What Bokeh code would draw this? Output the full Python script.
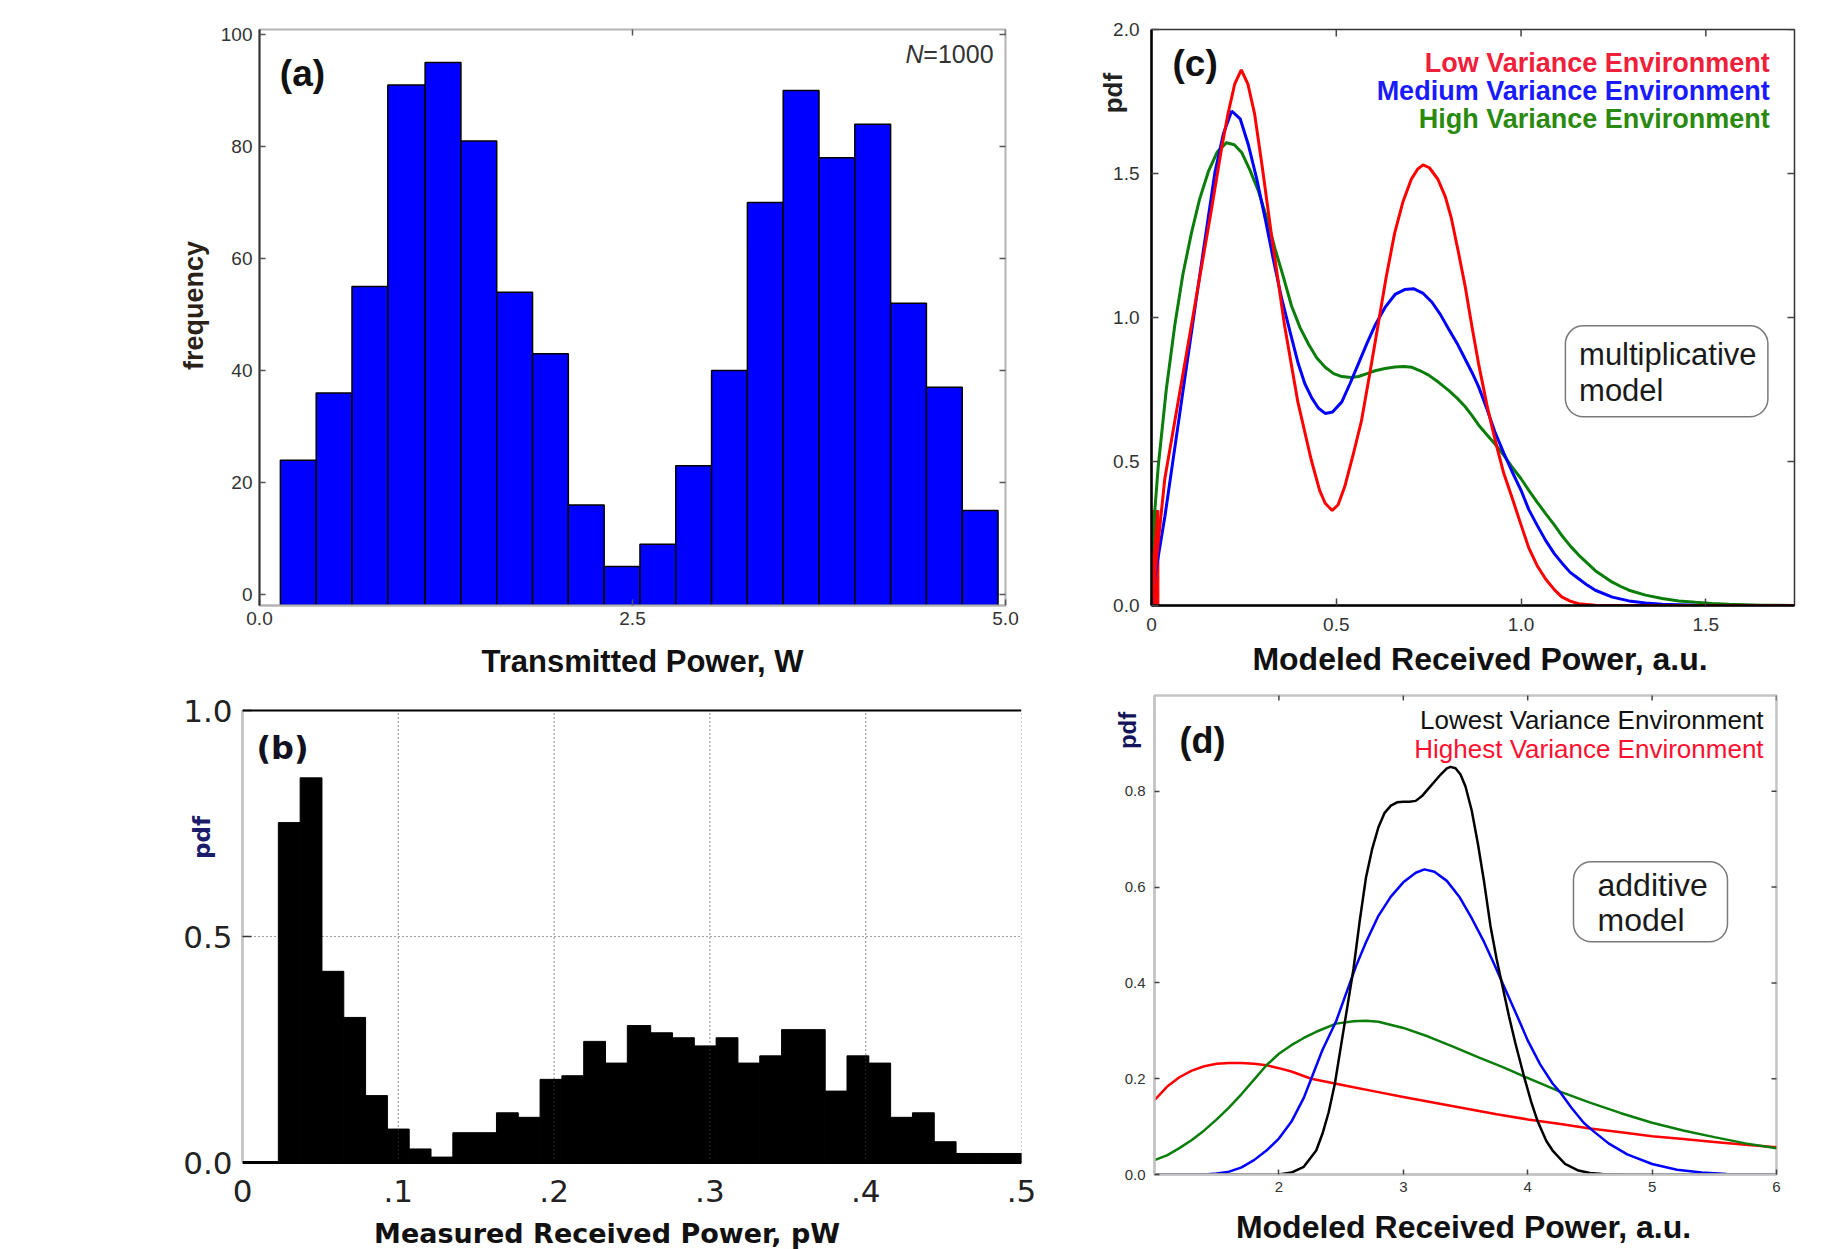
from math import pi
from bokeh.plotting import figure
from bokeh.models import (Range1d, FixedTicker, Label, BoxAnnotation, Span,
                          NumeralTickFormatter, CustomJSTickFormatter)
from bokeh.layouts import column, row
from bokeh.embed import file_html
from bokeh.resources import INLINE

# ---------------- data ----------------
# (a) histogram of transmitted power, N=1000
a_edges = [0.14, 0.38, 0.62, 0.86, 1.11, 1.35, 1.59, 1.83, 2.07, 2.31, 2.55,
           2.79, 3.03, 3.27, 3.51, 3.75, 3.99, 4.23, 4.47, 4.71, 4.95]
a_counts = [24, 36, 55, 91, 95, 81, 54, 43, 16, 5, 9, 23, 40, 70, 90, 78, 84, 52, 37, 15]

# (b) measured received power histogram (pdf)
b_edges = [0.023, 0.037, 0.051, 0.065, 0.079, 0.093, 0.107, 0.121, 0.135, 0.149, 0.163,
           0.177, 0.191, 0.205, 0.219, 0.233, 0.247, 0.262, 0.276, 0.290, 0.304, 0.318,
           0.332, 0.346, 0.360, 0.374, 0.388, 0.402, 0.416, 0.430, 0.444, 0.458, 0.472,
           0.486, 0.500]
b_pdf = [0.752, 0.851, 0.423, 0.321, 0.148, 0.074, 0.030, 0.012, 0.066, 0.066, 0.110,
         0.100, 0.184, 0.192, 0.268, 0.220, 0.303, 0.287, 0.276, 0.258, 0.276, 0.220,
         0.236, 0.294, 0.294, 0.158, 0.236, 0.220, 0.100, 0.110, 0.046, 0.020, 0.020, 0.020]

# (c) multiplicative model
c_low_x = [0.000, 0.009, 0.036, 0.072, 0.117, 0.162, 0.190, 0.207, 0.225, 0.243, 0.261, 0.279,
           0.300, 0.324, 0.360, 0.396, 0.432, 0.455, 0.470, 0.489, 0.505, 0.523, 0.545, 0.568,
           0.590, 0.613, 0.635, 0.658, 0.680, 0.703, 0.720, 0.735, 0.752, 0.775, 0.795, 0.811,
           0.830, 0.849, 0.867, 0.885, 0.907, 0.930, 0.953, 0.976, 1.000, 1.021, 1.043, 1.066,
           1.090, 1.110, 1.133, 1.156, 1.200, 1.300, 1.740]
c_low_y = [0.000, 0.107, 0.440, 0.707, 1.040, 1.373, 1.590, 1.707, 1.810, 1.860, 1.810, 1.707,
           1.520, 1.293, 0.973, 0.707, 0.507, 0.400, 0.355, 0.330, 0.350, 0.413, 0.520, 0.640,
           0.800, 0.973, 1.140, 1.293, 1.400, 1.480, 1.515, 1.530, 1.520, 1.480, 1.420, 1.347,
           1.230, 1.107, 0.970, 0.840, 0.700, 0.573, 0.460, 0.373, 0.280, 0.200, 0.140, 0.093,
           0.055, 0.030, 0.015, 0.006, 0.001, 0.000, 0.000]
c_low_spike = {"left": [0.0], "right": [0.02], "top": [0.33]}

c_med_x = [0.000, 0.005, 0.036, 0.081, 0.126, 0.172, 0.195, 0.217, 0.240, 0.262, 0.285, 0.307,
           0.330, 0.352, 0.375, 0.397, 0.415, 0.434, 0.452, 0.470, 0.490, 0.515, 0.537, 0.560,
           0.583, 0.605, 0.632, 0.659, 0.685, 0.709, 0.734, 0.759, 0.782, 0.804, 0.827, 0.849,
           0.867, 0.885, 0.907, 0.930, 0.953, 0.975, 1.000, 1.021, 1.043, 1.066, 1.090, 1.111,
           1.133, 1.156, 1.180, 1.201, 1.247, 1.292, 1.337, 1.382, 1.472, 1.600, 1.740]
c_med_y = [0.000, 0.067, 0.307, 0.707, 1.107, 1.507, 1.640, 1.717, 1.690, 1.600, 1.480, 1.347,
           1.200, 1.067, 0.950, 0.840, 0.770, 0.720, 0.685, 0.667, 0.672, 0.707, 0.770, 0.840,
           0.910, 0.973, 1.035, 1.080, 1.097, 1.100, 1.085, 1.053, 1.010, 0.960, 0.910, 0.855,
           0.810, 0.760, 0.685, 0.600, 0.530, 0.467, 0.400, 0.333, 0.280, 0.227, 0.180, 0.147,
           0.115, 0.093, 0.070, 0.053, 0.029, 0.016, 0.009, 0.004, 0.001, 0.000, 0.000]

c_high_x = [0.000, 0.018, 0.040, 0.063, 0.085, 0.108, 0.130, 0.154, 0.178, 0.203, 0.224, 0.244,
            0.267, 0.289, 0.312, 0.334, 0.357, 0.379, 0.402, 0.425, 0.447, 0.470, 0.493, 0.515,
            0.540, 0.560, 0.583, 0.605, 0.632, 0.659, 0.682, 0.705, 0.727, 0.750, 0.777, 0.804,
            0.827, 0.849, 0.867, 0.885, 0.907, 0.930, 0.953, 0.975, 1.000, 1.021, 1.043, 1.066,
            1.090, 1.111, 1.133, 1.156, 1.180, 1.201, 1.225, 1.247, 1.270, 1.292, 1.337, 1.382,
            1.427, 1.472, 1.517, 1.562, 1.650, 1.740]
c_high_y = [0.180, 0.480, 0.750, 0.973, 1.150, 1.293, 1.410, 1.507, 1.575, 1.607, 1.600, 1.573,
            1.510, 1.440, 1.345, 1.240, 1.140, 1.040, 0.965, 0.907, 0.860, 0.827, 0.805, 0.795,
            0.792, 0.795, 0.805, 0.815, 0.823, 0.828, 0.830, 0.827, 0.815, 0.800, 0.775, 0.747,
            0.720, 0.690, 0.660, 0.627, 0.594, 0.560, 0.522, 0.482, 0.440, 0.400, 0.360, 0.320,
            0.280, 0.242, 0.207, 0.175, 0.146, 0.121, 0.100, 0.081, 0.066, 0.053, 0.036, 0.024,
            0.016, 0.011, 0.007, 0.004, 0.001, 0.000]

# (d) additive model
d_lowest_x = [1.0, 1.5, 2.0, 2.1, 2.2, 2.3, 2.35, 2.4, 2.45, 2.5, 2.55, 2.6, 2.65, 2.7, 2.75, 2.8,
              2.85, 2.9, 2.95, 3.0, 3.05, 3.1, 3.15, 3.2, 3.25, 3.3, 3.35, 3.38, 3.42, 3.46,
              3.5, 3.55, 3.6, 3.65, 3.7, 3.75, 3.8, 3.85, 3.9, 3.97, 4.03, 4.08, 4.15, 4.2,
              4.3, 4.4, 4.5, 4.6, 4.8, 6.0]
d_lowest_y = [0.0, 0.0, 0.0, 0.004, 0.016, 0.05, 0.085, 0.13, 0.19, 0.27, 0.35, 0.43, 0.53,
              0.62, 0.68, 0.725, 0.755, 0.77, 0.777, 0.778, 0.778, 0.78, 0.79, 0.805, 0.82,
              0.835, 0.848, 0.851, 0.848, 0.835, 0.81, 0.76, 0.69, 0.61, 0.52, 0.45, 0.39,
              0.33, 0.275, 0.205, 0.15, 0.111, 0.07, 0.05, 0.022, 0.009, 0.003, 0.001, 0.0, 0.0]

d_blue_x = [1.0, 1.4, 1.5, 1.6, 1.7, 1.8, 1.9, 2.0, 2.1, 2.2, 2.26, 2.35, 2.46, 2.55, 2.62,
            2.7, 2.8, 2.9, 3.0, 3.1, 3.17, 3.25, 3.35, 3.45, 3.55, 3.65, 3.72, 3.8, 3.9, 4.0,
            4.1, 4.2, 4.26, 4.35, 4.45, 4.53, 4.65, 4.8, 5.0, 5.2, 5.4, 5.6, 6.0]
d_blue_y = [0.0, 0.0, 0.002, 0.006, 0.015, 0.03, 0.05, 0.075, 0.11, 0.16, 0.2, 0.26, 0.32,
            0.385, 0.435, 0.485, 0.54, 0.58, 0.61, 0.63, 0.637, 0.632, 0.613, 0.58, 0.535,
            0.485, 0.445, 0.398, 0.34, 0.28, 0.23, 0.19, 0.172, 0.14, 0.108, 0.09, 0.065,
            0.042, 0.022, 0.01, 0.004, 0.001, 0.0]

d_green_x = [1.0, 1.1, 1.2, 1.3, 1.4, 1.5, 1.6, 1.7, 1.8, 1.9, 2.0, 2.1, 2.2, 2.3, 2.46, 2.6,
             2.7, 2.8, 3.0, 3.2, 3.4, 3.6, 3.8, 3.97, 4.26, 4.5, 4.75, 5.0, 5.25, 5.5, 5.75, 6.0]
d_green_y = [0.03, 0.04, 0.055, 0.072, 0.092, 0.115, 0.14, 0.168, 0.198, 0.228, 0.252, 0.27,
             0.285, 0.298, 0.315, 0.32, 0.321, 0.319, 0.306, 0.288, 0.267, 0.245, 0.224, 0.205,
             0.173, 0.15, 0.128, 0.108, 0.092, 0.078, 0.065, 0.055]

d_highest_x = [1.0, 1.1, 1.2, 1.3, 1.4, 1.5, 1.6, 1.7, 1.8, 1.9, 2.0, 2.1, 2.26, 2.45, 2.6, 2.8,
               3.0, 3.25, 3.5, 3.75, 4.0, 4.25, 4.5, 4.75, 5.0, 5.25, 5.5, 5.75, 6.0]
d_highest_y = [0.155, 0.183, 0.203, 0.217, 0.226, 0.231, 0.233, 0.233, 0.231, 0.228, 0.222,
               0.215, 0.2, 0.19, 0.182, 0.172, 0.162, 0.15, 0.138, 0.126, 0.115, 0.106, 0.096,
               0.088, 0.08, 0.074, 0.068, 0.062, 0.057]

a_xticks = [0, 2.5, 5]
a_yticks = [0, 20, 40, 60, 80, 100]
b_xticks = [0, 0.1, 0.2, 0.3, 0.4, 0.5]
b_yticks = [0, 0.5, 1.0]
c_xticks = [0, 0.5, 1.0, 1.5]
c_yticks = [0, 0.5, 1.0, 1.5, 2.0]
d_xticks = [2, 3, 4, 5, 6]
d_yticks = [0, 0.2, 0.4, 0.6, 0.8]

# ---------------- styling helpers ----------------
ARIAL = "Liberation Sans"
DEJAVU = "DejaVu Sans"
RED, BLUE, GREEN = "#ff0000", "#0000ff", "#0a7d0a"


def base_fig(w, h, xr, yr, left, right, top, bottom):
    p = figure(width=w, height=h, x_range=Range1d(*xr), y_range=Range1d(*yr),
               output_backend="svg", toolbar_location=None,
               min_border_left=left, min_border_right=right,
               min_border_top=top, min_border_bottom=bottom)
    p.xgrid.visible = False
    p.ygrid.visible = False
    p.background_fill_color = "white"
    p.border_fill_color = "white"
    return p


def style_axis(ax, ticks, font, size, color, tick_in, tick_color, line_color, line_width,
               standoff):
    ax.ticker = FixedTicker(ticks=ticks)
    ax.major_label_text_font = font
    ax.major_label_text_font_size = size
    ax.major_label_text_color = color
    ax.major_tick_in = tick_in
    ax.major_tick_out = 0
    ax.major_tick_line_color = tick_color
    ax.major_tick_line_width = 1.5
    ax.minor_tick_line_color = None
    ax.axis_line_color = line_color
    ax.axis_line_width = line_width
    ax.major_label_standoff = standoff


def edge_ticks(p, xs, ys, length, color, vertical=False):
    # inward tick marks on the right / top frame edges (half of each dash is clipped)
    p.scatter(x=xs, y=ys, marker="dash", size=2 * length, angle=(pi / 2 if vertical else 0.0),
              line_color=color, line_width=1.5)


def label(p, x, y, text, font=ARIAL, size="24px", style="normal", color="black",
          align="center", baseline="middle", angle=0.0, place="center"):
    lab = Label(x=x, y=y, text=text, text_font=font, text_font_size=size,
                text_font_style=style, text_color=color, text_align=align,
                text_baseline=baseline, angle=angle)
    p.add_layout(lab, place)


# ---------------- (a) ----------------
pa = base_fig(1080, 680, (0, 5), (-1.96, 100.9), 259, 75, 29, 75)
pa.quad(left=a_edges[:-1], right=a_edges[1:], bottom=pa.y_range.start, top=a_counts,
        fill_color="#0000ff", line_color="black", line_width=1.5)
pa.outline_line_color = "#b4b4b4"
pa.outline_line_width = 2
style_axis(pa.xaxis[0], a_xticks, ARIAL, "19px", "#333333", 6, "#555555", "#b4b4b4", 2, 6)
pa.xaxis[0].formatter = NumeralTickFormatter(format="0.0")
style_axis(pa.yaxis[0], a_yticks, ARIAL, "19px", "#333333", 6, "#555555", "#333333", 2, 7)
edge_ticks(pa, [pa.x_range.end] * len(a_yticks), a_yticks, 6, "#555555")
edge_ticks(pa, a_xticks, [pa.y_range.end] * len(a_xticks), 6, "#555555", vertical=True)
label(pa, 0.288, 93.0, "(a)", size="37px", style="bold", color="#111111")
label(pa, 4.92, 96.6, "=1000", size="25px", color="#333333", align="right")
pa.add_layout(Label(x=4.92, y=96.6, x_offset=-70, text="N", text_font=ARIAL,
                    text_font_size="25px", text_font_style="italic", text_color="#333333",
                    text_align="right", text_baseline="middle"))
label(pa, -0.442, 51.6, "frequency", size="27px", style="bold", color="#2a2118",
      angle=pi / 2, place="left")
label(pa, 2.567, -12.0, "Transmitted Power, W", size="31px", style="bold", color="#111111",
      place="below")

# ---------------- (c) ----------------
pc = base_fig(751, 680, (0, 1.74), (0, 2.0), 66, 37, 29, 75)
pc.quad(left=c_low_spike["left"], right=c_low_spike["right"], bottom=0,
        top=c_low_spike["top"], fill_color=RED, line_color=RED)
pc.line(c_high_x, c_high_y, line_color=GREEN, line_width=3)
pc.line(c_med_x, c_med_y, line_color=BLUE, line_width=3)
pc.line(c_low_x, c_low_y, line_color=RED, line_width=3)
pc.outline_line_color = "#333333"
pc.outline_line_width = 1.5
style_axis(pc.xaxis[0], c_xticks, ARIAL, "19px", "#333333", 7, "#444444", "black", 2.5, 12)
pc.xaxis[0].formatter = CustomJSTickFormatter(code="return tick == 0 ? '0' : tick.toFixed(1);")
style_axis(pc.yaxis[0], c_yticks, ARIAL, "19px", "#333333", 7, "#444444", "black", 2.5, 12)
pc.yaxis[0].formatter = NumeralTickFormatter(format="0.0")
edge_ticks(pc, [pc.x_range.end] * len(c_yticks), c_yticks, 7, "#444444")
edge_ticks(pc, c_xticks, [pc.y_range.end] * len(c_xticks), 7, "#444444", vertical=True)
label(pc, 0.118, 1.882, "(c)", size="37px", style="bold", color="#111111")
label(pc, -0.105, 1.779, "pdf", size="26px", style="bold", color="#222222", angle=pi / 2,
      place="left")
label(pc, 1.673, 1.882, "Low Variance Environment", size="27px", style="bold",
      color="#f0203a", align="right")
label(pc, 1.673, 1.785, "Medium Variance Environment", size="27px", style="bold",
      color="#1a1aff", align="right")
label(pc, 1.673, 1.688, "High Variance Environment", size="27px", style="bold",
      color="#2a8a10", align="right")
pc.add_layout(BoxAnnotation(left=1.12, right=1.668, top=0.971, bottom=0.655, fill_color=None,
                            line_color="#7a7a7a", line_alpha=1.0, line_width=1.5,
                            border_radius=18))
label(pc, 1.157, 0.870, "multiplicative", size="31px", color="#1a1a1a", align="left")
label(pc, 1.157, 0.745, "model", size="31px", color="#1a1a1a", align="left")
label(pc, 0.889, -0.187, "Modeled Received Power, a.u.", size="32px", style="bold",
      color="#111111", place="below")

# ---------------- (b) ----------------
# frame shares its top/bottom edges with panel (d); the y range is widened so that
# 0.0 and 1.0 land where the reference draws them
pb = base_fig(1080, 569, (0, 0.5), (-0.0265, 1.0332), 242, 59, 15, 75)
pb.quad(left=b_edges[:-1], right=b_edges[1:], bottom=0, top=b_pdf,
        fill_color="black", line_color="black", line_width=1)
pb.outline_line_color = None
pb.ygrid.visible = True
pb.ygrid.ticker = FixedTicker(ticks=[0.5])
pb.ygrid[0].grid_line_color = "#444444"
pb.ygrid[0].grid_line_dash = "1 3"
pb.ygrid[0].grid_line_width = 1.2
pb.segment(x0=b_xticks[1:], y0=[b_yticks[0]] * 5, x1=b_xticks[1:], y1=[b_yticks[-1]] * 5,
           line_color="#444444", line_dash="1 3", line_width=1.2)
style_axis(pb.xaxis[0], b_xticks, DEJAVU, "31px", "#222222", 0, None, None, 0, 5)
pb.xaxis[0].formatter = CustomJSTickFormatter(
    code="return tick == 0 ? '0' : tick.toFixed(1).replace(/^0/, '');")
style_axis(pb.yaxis[0], b_yticks, DEJAVU, "31px", "#222222", 9, "#333333", "#c8c8c8", 3, 10)
pb.yaxis[0].bounds = (0, 1.0)
pb.yaxis[0].formatter = NumeralTickFormatter(format="0.0")
pb.add_layout(Span(location=1.0, dimension="width", line_color="black", line_width=2))
pb.add_layout(Span(location=0.0, dimension="width", line_color="black", line_width=3))
label(pb, 0.0257, 0.918, "(b)", font=DEJAVU, size="32px", style="bold", color="#111122")
label(pb, -0.0263, 0.719, "pdf", font=DEJAVU, size="23px", style="bold", color="#1c1c6b",
      angle=pi / 2, place="left")
label(pb, 0.234, -0.157, "Measured Received Power, pW", font=DEJAVU, size="27px",
      style="bold", color="#111111", place="below")

# ---------------- (d) ----------------
pd_ = base_fig(751, 569, (1, 6), (0, 1.0), 74, 55, 15, 75)
pd_.line(d_highest_x, d_highest_y, line_color=RED, line_width=2.5)
pd_.line(d_green_x, d_green_y, line_color=GREEN, line_width=2.5)
pd_.line(d_blue_x, d_blue_y, line_color=BLUE, line_width=2.5)
pd_.line(d_lowest_x, d_lowest_y, line_color="black", line_width=2.5)
pd_.outline_line_color = "#c4c4c4"
pd_.outline_line_width = 2.5
style_axis(pd_.xaxis[0], d_xticks, ARIAL, "15px", "#333333", 5, "#444444", "#c4c4c4", 2.5, 7)
style_axis(pd_.yaxis[0], d_yticks, ARIAL, "15px", "#333333", 5, "#444444", "#c4c4c4", 2.5, 9)
pd_.yaxis[0].formatter = NumeralTickFormatter(format="0.0")
edge_ticks(pd_, [pd_.x_range.end] * len(d_yticks), d_yticks, 5, "#444444")
edge_ticks(pd_, d_xticks, [pd_.y_range.end] * len(d_xticks), 5, "#444444", vertical=True)
label(pd_, 1.386, 0.906, "(d)", size="36px", style="bold", color="#111111")
label(pd_, 0.783, 0.927, "pdf", size="24px", style="bold", color="#14145a", angle=pi / 2,
      place="left")
label(pd_, 5.896, 0.948, "Lowest Variance Environment", size="26px", color="#111111",
      align="right")
label(pd_, 5.896, 0.889, "Highest Variance Environment", size="26px", color="#ff1030",
      align="right")
pd_.add_layout(BoxAnnotation(left=4.368, right=5.606, top=0.653, bottom=0.486, fill_color=None,
                             line_color="#7a7a7a", line_alpha=1.0, line_width=1.5,
                             border_radius=18))
label(pd_, 4.561, 0.605, "additive", size="32px", color="#1a1a1a", align="left")
label(pd_, 4.561, 0.532, "model", size="32px", color="#1a1a1a", align="left")
label(pd_, 3.484, -0.109, "Modeled Received Power, a.u.", size="32px", style="bold",
      color="#111111", place="below")

layout = column(row(pa, pc), row(pb, pd_))
open("out.html", "w").write(file_html(layout, INLINE))
